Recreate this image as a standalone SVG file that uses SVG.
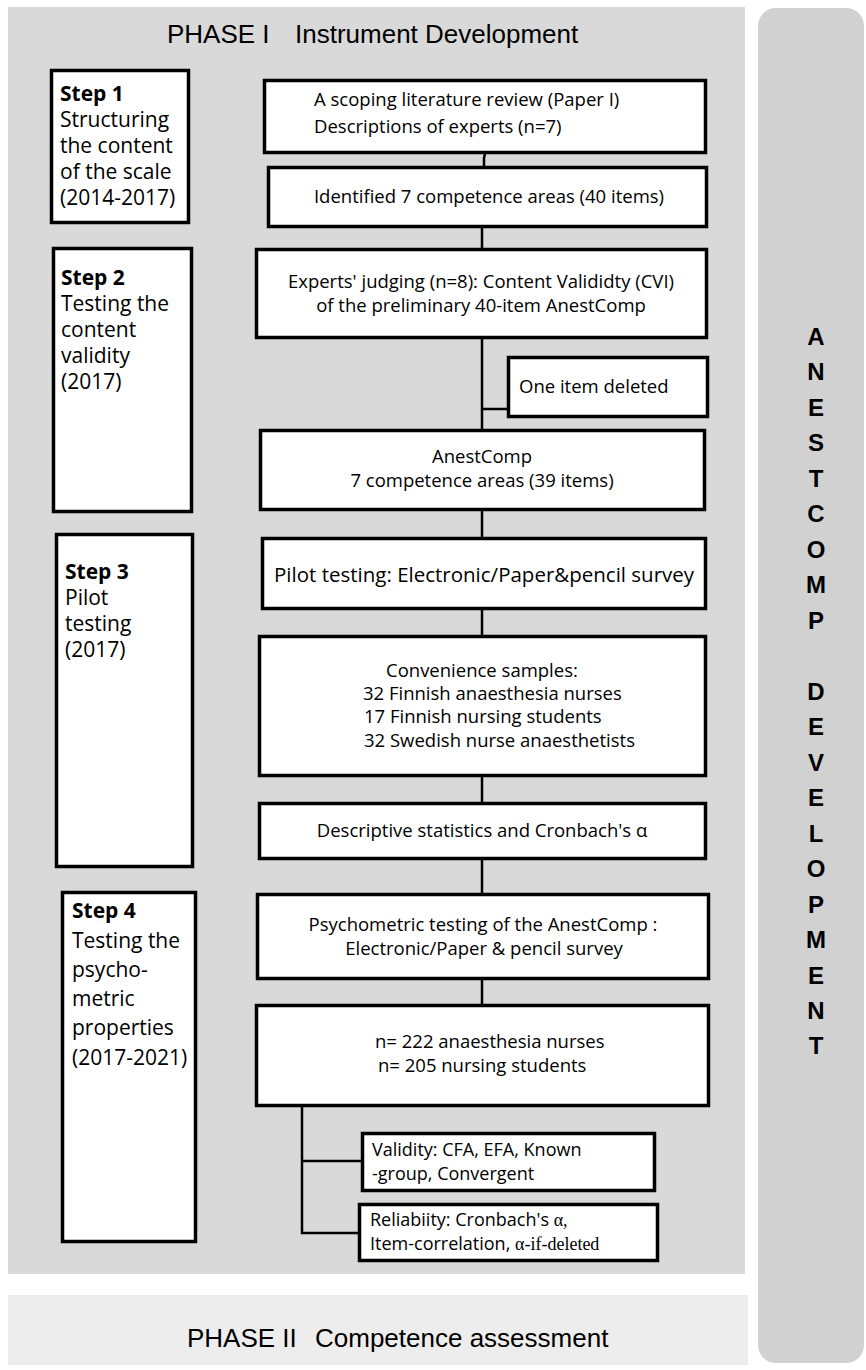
<svg xmlns="http://www.w3.org/2000/svg" width="866" height="1370" viewBox="0 0 866 1370">
<style>
.bg1{fill:#d9d9d9}
.bg2{fill:#ededed}
.side{fill:#d1d1d1}
.box{fill:#ffffff;stroke:#000;stroke-width:3.5}
.ln{fill:none;stroke:#000;stroke-width:2.5}
.t{font-family:"Open Sans","Liberation Sans",sans-serif;font-size:18.5px;fill:#000}
.sm{font-size:18px}
.s{font-family:"Open Sans","Liberation Sans",sans-serif;font-size:21px;fill:#000}
.b{font-weight:bold}
.c{text-anchor:middle}
.h{font-family:"Liberation Sans",Arial,sans-serif;font-size:26px;fill:#000}
.v{font-family:"Liberation Sans",Arial,sans-serif;font-size:24px;font-weight:bold;fill:#000;text-anchor:middle}
.sf{font-family:"Liberation Serif","Times New Roman",serif}
</style>
<rect class="bg1" x="8" y="7" width="737" height="1267"/>
<rect class="bg2" x="8" y="1295" width="740" height="70"/>
<rect class="side" x="758" y="8" width="106" height="1355" rx="18"/>
<text class="h" y="43"><tspan x="167">PHASE I</tspan><tspan x="295">Instrument Development</tspan></text>
<text class="h" y="1347"><tspan x="187">PHASE II</tspan><tspan x="315">Competence assessment</tspan></text>
<g id="sidebar-label">
<text class="v" x="816" y="345">A</text>
<text class="v" x="816" y="380">N</text>
<text class="v" x="816" y="416">E</text>
<text class="v" x="816" y="451">S</text>
<text class="v" x="816" y="487">T</text>
<text class="v" x="816" y="522">C</text>
<text class="v" x="816" y="558">O</text>
<text class="v" x="816" y="593">M</text>
<text class="v" x="816" y="629">P</text>
<text class="v" x="816" y="700">D</text>
<text class="v" x="816" y="735">E</text>
<text class="v" x="816" y="771">V</text>
<text class="v" x="816" y="806">E</text>
<text class="v" x="816" y="842">L</text>
<text class="v" x="816" y="877">O</text>
<text class="v" x="816" y="913">P</text>
<text class="v" x="816" y="948">M</text>
<text class="v" x="816" y="984">E</text>
<text class="v" x="816" y="1019">N</text>
<text class="v" x="816" y="1054">T</text>
</g>
<g id="connectors">
<path class="ln" d="M485,154 L484,158 V166"/>
<path class="ln" d="M482,228 V248"/>
<path class="ln" d="M482,339 V429 M482,409 H507"/>
<path class="ln" d="M482,511 V537"/>
<path class="ln" d="M482,610 V635"/>
<path class="ln" d="M482,777 V802"/>
<path class="ln" d="M482,860 V893"/>
<path class="ln" d="M482,980 V1004"/>
<path class="ln" d="M302,1107 V1233 H358 M302,1161 H361"/>
</g>
<g id="step1">
<rect class="box" x="51.5" y="70.5" width="137" height="152"/>
<text class="s"><tspan class="b" x="60" y="101">Step 1</tspan><tspan x="60" y="127">Structuring</tspan><tspan x="60" y="153">the content</tspan><tspan x="60" y="179">of the scale</tspan><tspan x="60" y="205">(2014-2017)</tspan></text>
</g>
<g id="step2">
<rect class="box" x="53.5" y="248.5" width="138" height="263"/>
<text class="s"><tspan class="b" x="61" y="285">Step 2</tspan><tspan x="61" y="311">Testing the</tspan><tspan x="61" y="337">content</tspan><tspan x="61" y="363">validity</tspan><tspan x="61" y="389">(2017)</tspan></text>
</g>
<g id="step3">
<rect class="box" x="56.5" y="534.5" width="136" height="332"/>
<text class="s"><tspan class="b" x="65" y="579">Step 3</tspan><tspan x="65" y="605">Pilot</tspan><tspan x="65" y="631">testing</tspan><tspan x="65" y="657">(2017)</tspan></text>
</g>
<g id="step4">
<rect class="box" x="62.5" y="892.5" width="133" height="349"/>
<text class="s"><tspan class="b" x="72" y="918">Step 4</tspan><tspan x="72" y="948">Testing the</tspan><tspan x="72" y="977">psycho-</tspan><tspan x="72" y="1006">metric</tspan><tspan x="72" y="1035">properties</tspan><tspan x="72" y="1065">(2017-2021)</tspan></text>
</g>
<g id="scoping-review">
<rect class="box" x="264.5" y="80.5" width="441" height="72"/>
<text class="t"><tspan x="314" y="106">A scoping literature review (Paper I)</tspan><tspan x="314" y="133">Descriptions of experts (n=7)</tspan></text>
</g>
<g id="identified-areas">
<rect class="box" x="268.5" y="167.5" width="438" height="59"/>
<text class="t c" x="489" y="203">Identified 7 competence areas (40 items)</text>
</g>
<g id="experts-judging">
<rect class="box" x="256.5" y="249.5" width="450" height="88"/>
<text class="t c"><tspan x="481" y="288">Experts' judging (n=8): Content Valididty (CVI)</tspan><tspan x="481" y="312">of the preliminary 40-item AnestComp</tspan></text>
</g>
<g id="item-deleted">
<rect class="box" x="508.5" y="357.5" width="199" height="59"/>
<text class="t" x="519" y="393">One item deleted</text>
</g>
<g id="anestcomp-39">
<rect class="box" x="260.5" y="430.5" width="444" height="79"/>
<text class="t c"><tspan x="482" y="463">AnestComp</tspan><tspan x="482" y="487">7 competence areas (39 items)</tspan></text>
</g>
<g id="pilot-testing">
<rect class="box" x="262.5" y="538.5" width="443" height="70"/>
<text class="t" x="274" y="582" style="font-size:20.5px">Pilot testing: Electronic/Paper&amp;pencil survey</text>
</g>
<g id="convenience-samples">
<rect class="box" x="259.5" y="636.5" width="446" height="139"/>
<text class="t"><tspan x="386" y="677">Convenience samples:</tspan><tspan x="363" y="700">32 Finnish anaesthesia nurses</tspan><tspan x="364" y="723">17 Finnish nursing students</tspan><tspan x="364" y="747">32 Swedish nurse anaesthetists</tspan></text>
</g>
<g id="descriptive-stats">
<rect class="box" x="259.5" y="803.5" width="446" height="55"/>
<text class="t c" x="482" y="837">Descriptive statistics and Cronbach's α</text>
</g>
<g id="psychometric-testing">
<rect class="box" x="257.5" y="894.5" width="451" height="84"/>
<text class="t c"><tspan x="483" y="931">Psychometric testing of the AnestComp :</tspan><tspan x="484" y="955">Electronic/Paper &amp; pencil survey</tspan></text>
</g>
<g id="samples-n">
<rect class="box" x="256.5" y="1005.5" width="452" height="100"/>
<text class="t"><tspan x="375" y="1048">n= 222 anaesthesia nurses</tspan><tspan x="378" y="1072">n= 205 nursing students</tspan></text>
</g>
<g id="validity">
<rect class="box" x="362.5" y="1133.5" width="292" height="57"/>
<text class="t sm"><tspan x="372" y="1156">Validity: CFA, EFA, Known</tspan><tspan x="372" y="1180">-group, Convergent</tspan></text>
</g>
<g id="reliability">
<rect class="box" x="359.5" y="1204.5" width="298" height="56"/>
<text class="t sm"><tspan x="370" y="1226">Reliabiity: Cronbach's </tspan><tspan class="sf">α,</tspan><tspan x="370" y="1250">Item-correlation, </tspan><tspan class="sf">α-if-deleted</tspan></text>
</g>
</svg>
